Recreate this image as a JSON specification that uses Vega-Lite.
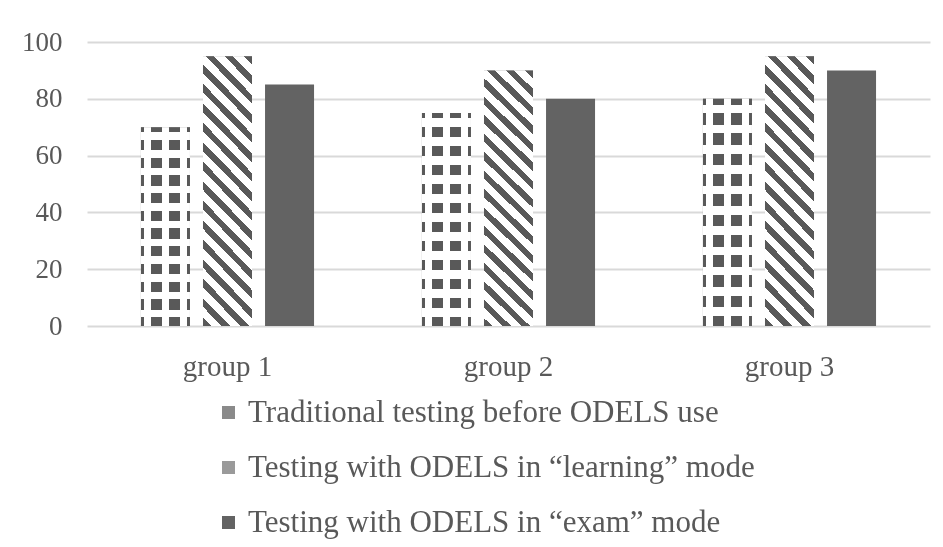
{
  "$schema": "https://vega.github.io/schema/vega-lite/v6.json",
  "width": 843,
  "height": 284,
  "autosize": "none",
  "padding": {"left": 87, "top": 42, "right": 13, "bottom": 221},
  "background": "white",
  "config": {"view": {"stroke": null}, "font": "Liberation Serif"},
  "data": {
    "values": [
      {"group": "group 1", "series": "Traditional testing before ODELS use", "value": 70},
      {"group": "group 1", "series": "Testing with ODELS in “learning” mode", "value": 95},
      {"group": "group 1", "series": "Testing with ODELS in “exam” mode", "value": 85},
      {"group": "group 2", "series": "Traditional testing before ODELS use", "value": 75},
      {"group": "group 2", "series": "Testing with ODELS in “learning” mode", "value": 90},
      {"group": "group 2", "series": "Testing with ODELS in “exam” mode", "value": 80},
      {"group": "group 3", "series": "Traditional testing before ODELS use", "value": 80},
      {"group": "group 3", "series": "Testing with ODELS in “learning” mode", "value": 95},
      {"group": "group 3", "series": "Testing with ODELS in “exam” mode", "value": 90}
    ]
  },
  "encoding": {
    "x": {
      "field": "group", "type": "nominal", "sort": null,
      "scale": {"paddingInner": 0.384, "paddingOuter": 0.192},
      "axis": {"title": null, "labelAngle": 0, "labelFontSize": 29, "labelColor": "#595959", "labelPadding": 26, "ticks": false, "domain": false}
    },
    "xOffset": {
      "field": "series", "type": "nominal",
      "sort": ["Traditional testing before ODELS use", "Testing with ODELS in “learning” mode", "Testing with ODELS in “exam” mode"],
      "scale": {"paddingInner": 0.21, "paddingOuter": 0}
    },
    "y": {
      "field": "value", "type": "quantitative",
      "scale": {"domain": [0, 100]},
      "axis": {"title": null, "values": [0, 20, 40, 60, 80, 100], "labelFontSize": 27, "labelColor": "#595959", "labelPadding": 25, "ticks": false, "domain": false, "gridColor": "#d9d9d9", "gridWidth": 2}
    }
  },
  "layer": [
    {
      "mark": {"type": "bar"},
      "encoding": {
        "color": {
          "field": "series", "type": "nominal",
          "sort": ["Traditional testing before ODELS use", "Testing with ODELS in “learning” mode", "Testing with ODELS in “exam” mode"],
          "scale": {"range": ["#8a8a8a", "#9a9a9a", "#636363"]},
          "legend": {"orient": "none", "legendX": 126, "legendY": 355, "title": null, "direction": "vertical", "labelFontSize": 31, "labelColor": "#595959", "symbolType": "square", "symbolSize": 170, "symbolStrokeWidth": 0, "rowPadding": 23, "labelOffset": 4, "labelLimit": 800}
        }
      }
    },
    {
      "transform": [{"filter": {"field": "series", "equal": "Testing with ODELS in “learning” mode"}}],
      "mark": {"type": "bar", "color": {"gradient": "linear", "x1": 1, "y1": 0, "x2": 0.786, "y2": 1.146, "stops": [
        {"offset": 0, "color": "#595959"}, {"offset": 0.0274, "color": "#595959"}, {"offset": 0.0274, "color": "#ffffff"}, {"offset": 0.0609, "color": "#ffffff"},
        {"offset": 0.0609, "color": "#595959"}, {"offset": 0.0883, "color": "#595959"}, {"offset": 0.0883, "color": "#ffffff"}, {"offset": 0.1218, "color": "#ffffff"},
        {"offset": 0.1218, "color": "#595959"}, {"offset": 0.1492, "color": "#595959"}, {"offset": 0.1492, "color": "#ffffff"}, {"offset": 0.1827, "color": "#ffffff"},
        {"offset": 0.1827, "color": "#595959"}, {"offset": 0.2101, "color": "#595959"}, {"offset": 0.2101, "color": "#ffffff"}, {"offset": 0.2436, "color": "#ffffff"},
        {"offset": 0.2436, "color": "#595959"}, {"offset": 0.2710, "color": "#595959"}, {"offset": 0.2710, "color": "#ffffff"}, {"offset": 0.3045, "color": "#ffffff"},
        {"offset": 0.3045, "color": "#595959"}, {"offset": 0.3319, "color": "#595959"}, {"offset": 0.3319, "color": "#ffffff"}, {"offset": 0.3654, "color": "#ffffff"},
        {"offset": 0.3654, "color": "#595959"}, {"offset": 0.3928, "color": "#595959"}, {"offset": 0.3928, "color": "#ffffff"}, {"offset": 0.4263, "color": "#ffffff"},
        {"offset": 0.4263, "color": "#595959"}, {"offset": 0.4537, "color": "#595959"}, {"offset": 0.4537, "color": "#ffffff"}, {"offset": 0.4872, "color": "#ffffff"},
        {"offset": 0.4872, "color": "#595959"}, {"offset": 0.5146, "color": "#595959"}, {"offset": 0.5146, "color": "#ffffff"}, {"offset": 0.5481, "color": "#ffffff"},
        {"offset": 0.5481, "color": "#595959"}, {"offset": 0.5755, "color": "#595959"}, {"offset": 0.5755, "color": "#ffffff"}, {"offset": 0.6090, "color": "#ffffff"},
        {"offset": 0.6090, "color": "#595959"}, {"offset": 0.6364, "color": "#595959"}, {"offset": 0.6364, "color": "#ffffff"}, {"offset": 0.6699, "color": "#ffffff"},
        {"offset": 0.6699, "color": "#595959"}, {"offset": 0.6973, "color": "#595959"}, {"offset": 0.6973, "color": "#ffffff"}, {"offset": 0.7308, "color": "#ffffff"},
        {"offset": 0.7308, "color": "#595959"}, {"offset": 0.7582, "color": "#595959"}, {"offset": 0.7582, "color": "#ffffff"}, {"offset": 0.7917, "color": "#ffffff"},
        {"offset": 0.7917, "color": "#595959"}, {"offset": 0.8191, "color": "#595959"}, {"offset": 0.8191, "color": "#ffffff"}, {"offset": 0.8526, "color": "#ffffff"},
        {"offset": 0.8526, "color": "#595959"}, {"offset": 0.8800, "color": "#595959"}, {"offset": 0.8800, "color": "#ffffff"}, {"offset": 0.9135, "color": "#ffffff"},
        {"offset": 0.9135, "color": "#595959"}, {"offset": 0.9409, "color": "#595959"}, {"offset": 0.9409, "color": "#ffffff"}, {"offset": 0.9744, "color": "#ffffff"},
        {"offset": 0.9744, "color": "#595959"}, {"offset": 1, "color": "#595959"}
      ]}}
    },
    {
      "transform": [{"filter": {"field": "series", "equal": "Traditional testing before ODELS use"}}],
      "mark": {"type": "bar", "color": {"gradient": "linear", "x1": 0, "y1": 0, "x2": 1, "y2": 0, "stops": [
        {"offset": 0, "color": "#595959"}, {"offset": 0.07, "color": "#595959"}, {"offset": 0.07, "color": "#ffffff"}, {"offset": 0.208, "color": "#ffffff"},
        {"offset": 0.208, "color": "#595959"}, {"offset": 0.432, "color": "#595959"}, {"offset": 0.432, "color": "#ffffff"}, {"offset": 0.568, "color": "#ffffff"},
        {"offset": 0.568, "color": "#595959"}, {"offset": 0.792, "color": "#595959"}, {"offset": 0.792, "color": "#ffffff"}, {"offset": 0.93, "color": "#ffffff"},
        {"offset": 0.93, "color": "#595959"}, {"offset": 1, "color": "#595959"}
      ]}}
    },
    {
      "transform": [{"filter": {"field": "series", "equal": "Traditional testing before ODELS use"}}],
      "mark": {"type": "bar", "blend": "lighten", "color": {"gradient": "linear", "x1": 0, "y1": 0, "x2": 0, "y2": 1, "stops": [
        {"offset": 0, "color": "#595959"}, {"offset": 0.0258, "color": "#595959"}, {"offset": 0.0258, "color": "#ffffff"}, {"offset": 0.0634, "color": "#ffffff"},
        {"offset": 0.0634, "color": "#595959"}, {"offset": 0.1150, "color": "#595959"}, {"offset": 0.1150, "color": "#ffffff"}, {"offset": 0.1526, "color": "#ffffff"},
        {"offset": 0.1526, "color": "#595959"}, {"offset": 0.2042, "color": "#595959"}, {"offset": 0.2042, "color": "#ffffff"}, {"offset": 0.2418, "color": "#ffffff"},
        {"offset": 0.2418, "color": "#595959"}, {"offset": 0.2934, "color": "#595959"}, {"offset": 0.2934, "color": "#ffffff"}, {"offset": 0.3310, "color": "#ffffff"},
        {"offset": 0.3310, "color": "#595959"}, {"offset": 0.3826, "color": "#595959"}, {"offset": 0.3826, "color": "#ffffff"}, {"offset": 0.4202, "color": "#ffffff"},
        {"offset": 0.4202, "color": "#595959"}, {"offset": 0.4718, "color": "#595959"}, {"offset": 0.4718, "color": "#ffffff"}, {"offset": 0.5094, "color": "#ffffff"},
        {"offset": 0.5094, "color": "#595959"}, {"offset": 0.5610, "color": "#595959"}, {"offset": 0.5610, "color": "#ffffff"}, {"offset": 0.5986, "color": "#ffffff"},
        {"offset": 0.5986, "color": "#595959"}, {"offset": 0.6502, "color": "#595959"}, {"offset": 0.6502, "color": "#ffffff"}, {"offset": 0.6878, "color": "#ffffff"},
        {"offset": 0.6878, "color": "#595959"}, {"offset": 0.7394, "color": "#595959"}, {"offset": 0.7394, "color": "#ffffff"}, {"offset": 0.7770, "color": "#ffffff"},
        {"offset": 0.7770, "color": "#595959"}, {"offset": 0.8286, "color": "#595959"}, {"offset": 0.8286, "color": "#ffffff"}, {"offset": 0.8662, "color": "#ffffff"},
        {"offset": 0.8662, "color": "#595959"}, {"offset": 0.9178, "color": "#595959"}, {"offset": 0.9178, "color": "#ffffff"}, {"offset": 0.9554, "color": "#ffffff"},
        {"offset": 0.9554, "color": "#595959"}, {"offset": 1, "color": "#595959"}
      ]}}
    }
  ]
}
